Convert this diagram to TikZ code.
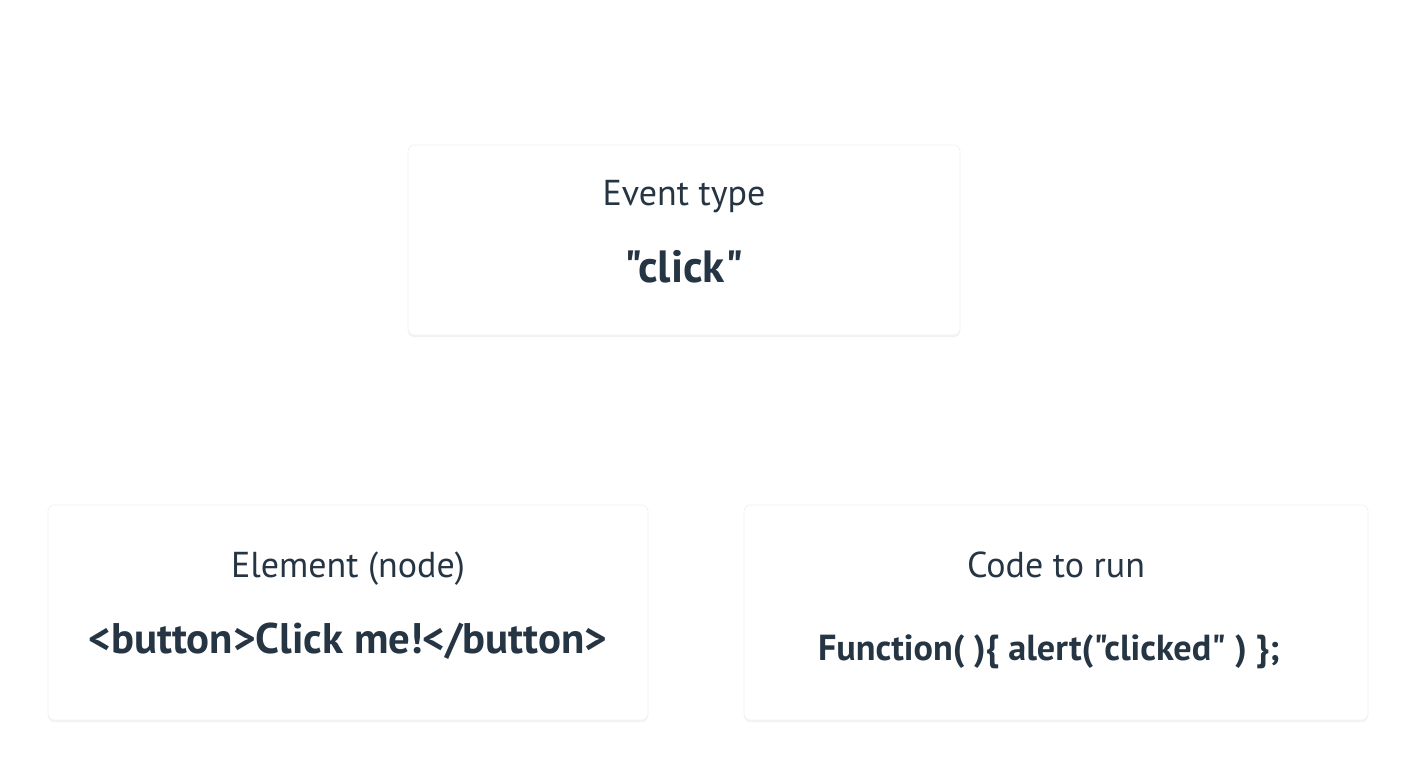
\documentclass[tikz,border=0pt]{standalone}
\usepackage{fontspec}
\setmainfont{PT Sans}[Ligatures=TeXOff]
\usetikzlibrary{positioning, shadows}
\definecolor{cardtext}{HTML}{263543}
\definecolor{cardedge}{HTML}{F1F2F4}

\begin{document}
\begin{tikzpicture}[
    x=0.5pt, y=-0.5pt,
    card/.style={
        draw=cardedge,
        fill=white,
        rounded corners=3pt,
        inner sep=0pt,
        drop shadow={shadow xshift=0pt, shadow yshift=-1pt, opacity=0.05, fill=black}
    },
    cardtitle/.style={
        anchor=base,
        inner sep=0pt,
        text=cardtext,
        font=\fontsize{18}{21}\selectfont
    },
    cardvalue/.style={
        anchor=base,
        inner sep=0pt,
        text=cardtext,
        font=\bfseries\fontsize{21.4}{25}\selectfont
    }
]
    \useasboundingbox (0,0) rectangle (1416,768);

    \node[card, minimum width=276pt, minimum height=95pt] (eventBox) at (684,240) {};
    \node[card, minimum width=300pt, minimum height=107.5pt] (elementBox) at (348,612.5) {};
    \node[card, minimum width=312pt, minimum height=107.5pt] (codeBox) at (1056,612.5) {};

    \node[cardtitle] (eventTitle) at (684,205) {Event type};
    \node[cardvalue, font=\bfseries\fontsize{22.6}{26}\selectfont] (eventValue) at (684,282) {"click"};

    \node[cardtitle] (elementTitle) at (348,577) {Element (node)};
    \node[cardvalue] (elementValue) at (348,653) {<button>Click me!</button>};

    \node[cardtitle] (codeTitle) at (1056,577) {Code to run};
    \node[cardvalue, font=\bfseries\fontsize{18.1}{21}\selectfont] (codeValue) at (1049,660) {Function( )\{ alert("clicked" ) \};};
\end{tikzpicture}
\end{document}
